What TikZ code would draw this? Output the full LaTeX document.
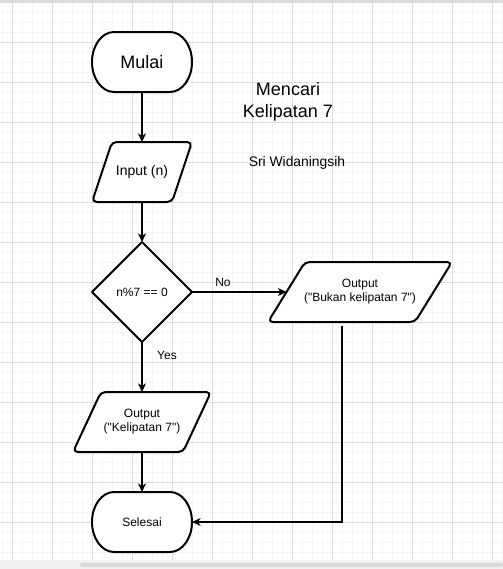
\documentclass[tikz,border=0pt]{standalone}
\usepackage{fontspec}
\setmainfont{Liberation Sans}[Ligatures=TeXOff]
\usetikzlibrary{shapes.geometric,arrows.meta,calc}
\definecolor{gridmajor}{HTML}{DEDEDE}
\definecolor{gridminor}{HTML}{F6F6F6}
\definecolor{topbar}{HTML}{DCDCDC}
\definecolor{botband}{HTML}{F1F1F1}
\definecolor{scrollbar}{HTML}{DADADA}
\newcommand\termshape[2]{%
  \draw[sh] (#1-28,#2-30) -- (#1+28,#2-30)
    arc[start angle=-90,end angle=90,x radius=22,y radius=30]
    -- (#1-28,#2+30)
    arc[start angle=90,end angle=270,x radius=22,y radius=30] -- cycle;}
\newcommand\paragram[5]{%
  \draw[sh,rounded corners=3.5pt] (#1+#5,#2) -- (#3,#2) -- (#3-#5,#4) -- (#1,#4) -- cycle;}
\begin{document}
\begin{tikzpicture}[x=0.75pt,y=-0.75pt,
  sh/.style={draw=black,line width=1.5pt,fill=white,line join=round},
  box/.style={inner sep=0pt,outer sep=0pt,align=center},
  conn/.style={draw=black,line width=0.8pt,-{Stealth[length=6.5pt,width=6pt,inset=2pt]}},
  t12/.style={font=\fontsize{9}{10.5}\selectfont},
  t14/.style={font=\fontsize{10.5}{12.5}\selectfont},
  t18/.style={font=\fontsize{13.5}{16.5}\selectfont}]
\useasboundingbox (0,0) rectangle (503,569);
\fill[white] (0,0) rectangle (503,569);
% grid
\foreach \x in {2,12,...,502} \draw[gridminor,line width=0.75pt] (\x,3) -- (\x,560);
\foreach \y in {12,22,...,552} \draw[gridminor,line width=0.75pt] (0,\y) -- (503,\y);
\foreach \x in {12,52,...,492} \draw[gridmajor,line width=0.75pt] (\x,3) -- (\x,560);
\foreach \y in {42,82,...,522} \draw[gridmajor,line width=0.75pt] (0,\y) -- (503,\y);
\fill[topbar] (0,0) rectangle (503,3);
\fill[botband] (0,560) rectangle (503,569);
\fill[scrollbar,rounded corners=1.5pt] (80,563) rectangle (503,567);
% shapes
\termshape{142}{62}
\termshape{142}{522}
\paragram{92}{142}{192}{202}{20}
\paragram{73}{392}{211}{452}{28}
\paragram{268}{262}{452}{322}{37}
% nodes
\node[box,t18,minimum width=75pt,minimum height=45pt] (start) at (142,62) {Mulai};
\node[box,t14,minimum width=75pt,minimum height=45pt] (inp) at (142,172) {Input (n)};
\node[sh,diamond,aspect=1,inner sep=0pt,outer sep=0pt,minimum width=75pt,minimum height=75pt,t12] (dec) at (142,292) {n\%7 == 0};
\node[box,t12,minimum width=138pt,minimum height=45pt] (bukan) at (360,292) {Output\\("Bukan kelipatan 7")};
\node[box,t12,minimum width=103.5pt,minimum height=45pt] (kel) at (142,422) {Output\\("Kelipatan 7")};
\node[box,t12,minimum width=75pt,minimum height=45pt] (sel) at (142,522) {Selesai};
\node[box,t18] (title) at (288,102) {Mencari\\Kelipatan 7};
\node[box,font=\fontsize{10.4}{12}\selectfont] (author) at (297,163) {Sri Widaningsih};
\node[box,t12] (no) at (223,282) {No};
\node[box,t12] (yes) at (167,355) {Yes};
\coordinate (bkout) at (342,326);
% connectors
\draw[conn] (start.south) -- (inp.north);
\draw[conn] (inp.south) -- (dec.north);
\draw[conn] (dec.east) -- ($(bukan.west)+(18.5,0)$);
\draw[conn] (dec.south) -- (kel.north);
\draw[conn] (kel.south) -- (sel.north);
\draw[conn] (bkout) |- (sel.east);
\end{tikzpicture}
\end{document}
